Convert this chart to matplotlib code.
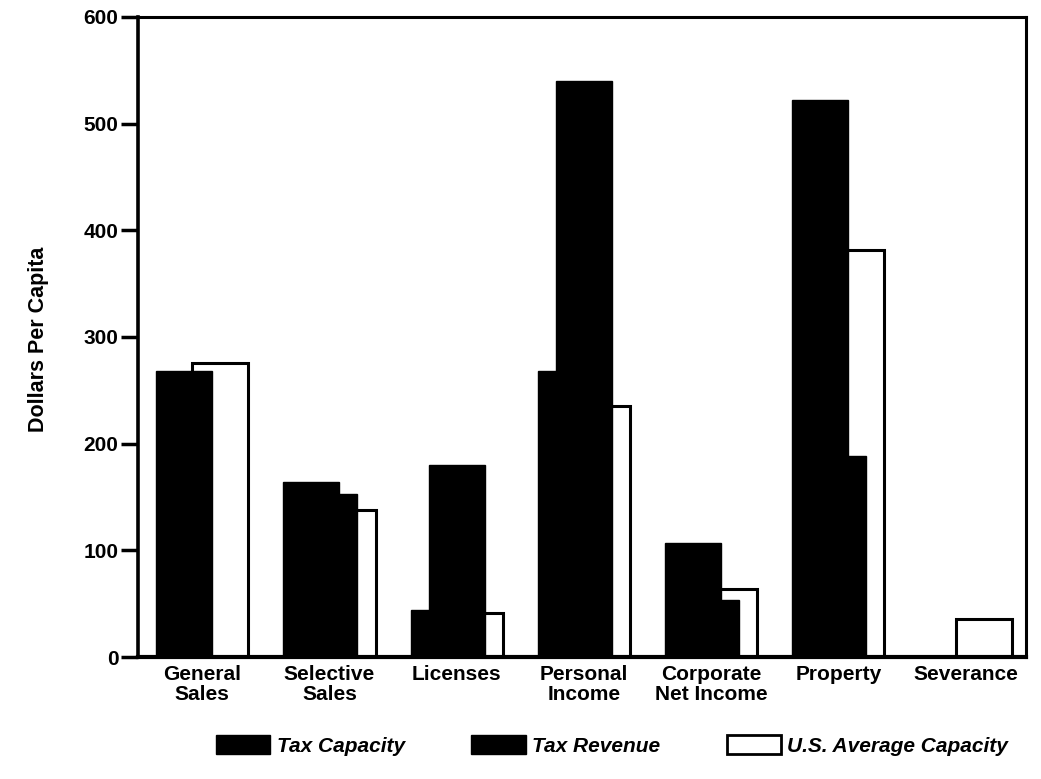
import matplotlib
matplotlib.use("Agg")
import matplotlib.pyplot as plt
import numpy as np
from matplotlib.patches import Patch

categories = ["General\nSales", "Selective\nSales", "Licenses", "Personal\nIncome",
              "Corporate\nNet Income", "Property", "Severance"]
tax_capacity = [268, 164, 44, 268, 107, 522, 0]
tax_revenue = [0, 153, 180, 540, 53, 188, 0]
us_average = [276, 138, 41, 235, 64, 382, 36]
yticks = [0, 100, 200, 300, 400, 500, 600]
legend_labels = ["Tax Capacity", "Tax Revenue", "U.S. Average Capacity"]

fam = ["Liberation Sans", "DejaVu Sans"]
plt.rcParams["font.family"] = fam
plt.rcParams["hatch.color"] = "#262626"
plt.rcParams["hatch.linewidth"] = 0.6

fig = plt.figure(figsize=(10.41, 7.79), dpi=100)
ax = fig.add_axes([0.1326, 0.1566, 0.8530, 0.8216])

x = np.arange(len(categories))
w = 0.44
off = 0.142
ax.bar(x + off, us_average, w, color="white", edgecolor="black", linewidth=2.2, zorder=1)
ax.bar(x, tax_revenue, w, color="black", edgecolor="black", linewidth=1, zorder=2)
ax.bar(x - off, tax_capacity, w, color="black", edgecolor="black", linewidth=1, zorder=3,
       hatch="///")

ax.set_xlim(-0.505, 6.475)
ax.set_ylim(0, 600)
ax.set_yticks(yticks)
ax.set_yticklabels([str(v) for v in yticks], fontsize=15, fontweight="bold")
ax.set_xticks(x)
ax.set_xticklabels(categories, fontsize=15, fontweight="bold", linespacing=1.05)
ax.tick_params(axis="x", length=0, pad=6)
ax.tick_params(axis="y", length=12, width=2.5, direction="out", pad=2)
for s in ax.spines.values():
    s.set_linewidth(2.2)
ax.spines["bottom"].set_linewidth(3)
ax.spines["left"].set_linewidth(2.6)

fig.text(0.037, 0.565, "Dollars Per Capita", rotation=90, ha="center", va="center",
         fontsize=15.5, fontweight="bold")

handles = [Patch(facecolor="black", edgecolor="black"),
           Patch(facecolor="black", edgecolor="black"),
           Patch(facecolor="white", edgecolor="black", linewidth=2)]
leg = fig.legend(handles, legend_labels, loc="center", bbox_to_anchor=(0.588, 0.043),
                 ncol=3, frameon=False, handlelength=2.6, handleheight=1.0,
                 columnspacing=3.2, handletextpad=0.3,
                 prop={"family": fam, "weight": "bold", "style": "italic", "size": 15})

fig.savefig("out.png", dpi=100)
